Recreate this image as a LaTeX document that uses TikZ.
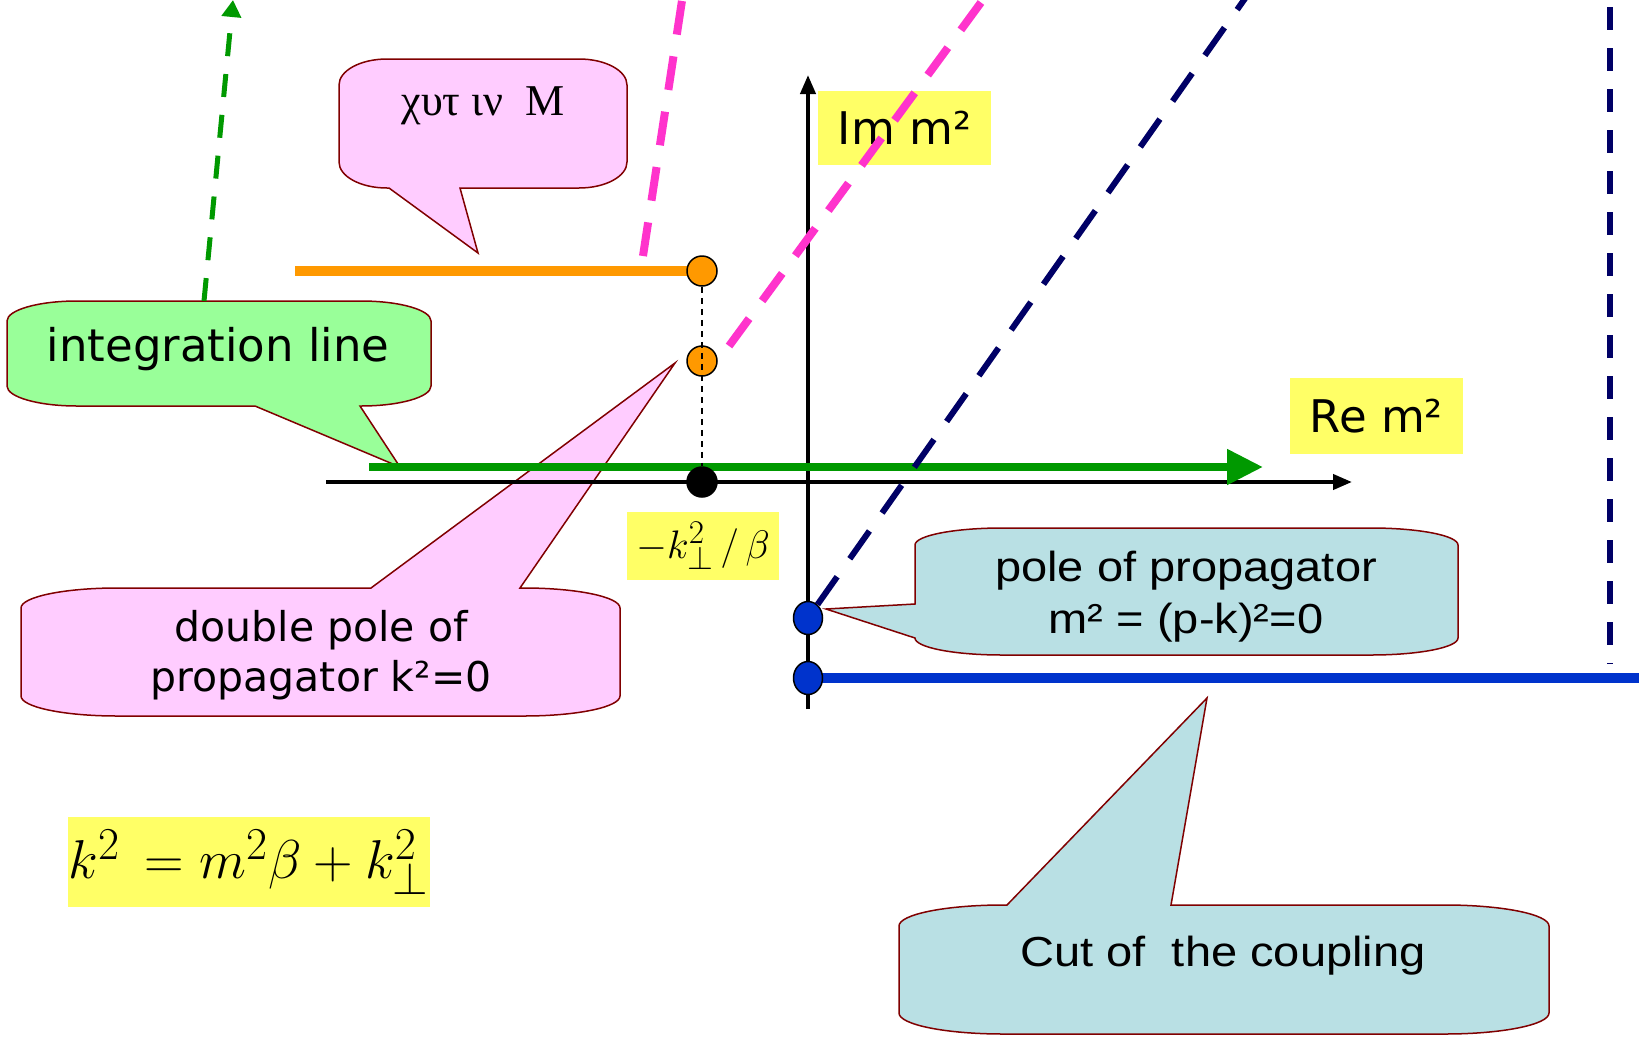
\documentclass[tikz,border=0pt]{standalone}
\usepackage{fontspec}
\usetikzlibrary{arrows.meta,shapes.geometric}
\newfontfamily\dvs{DejaVu Sans}
\newfontfamily\lsans[FakeStretch=1.12]{Liberation Sans}
\newfontfamily\lserif{Liberation Serif}
\definecolor{pinkc}{HTML}{FFCCFF}
\definecolor{greenc}{HTML}{99FF99}
\definecolor{cyanc}{HTML}{B9E0E4}
\definecolor{yellowc}{HTML}{FFFF66}
\definecolor{maroonc}{HTML}{800000}
\definecolor{orangec}{HTML}{FF9900}
\definecolor{magc}{HTML}{FF33CC}
\definecolor{navyc}{HTML}{000066}
\definecolor{bluec}{HTML}{0033CC}
\definecolor{greenl}{HTML}{009900}
\def\cbcol{pinkc}
% #1 x1, #2 y1, #3 x2, #4 y2, #5 rx, #6 ry, #7 top tail, #8 bottom tail, #9 left tail
\newcommand\callout[9]{%
\draw[cbox] ({#1+#5},#2) #7 -- ({#3-#5},#2)
 .. controls ({#3-0.4477*#5},#2) and (#3,{#2+0.4477*#6}) .. (#3,{#2+#6})
 -- (#3,{#4-#6})
 .. controls (#3,{#4-0.4477*#6}) and ({#3-0.4477*#5},#4) .. ({#3-#5},#4)
 #8 -- ({#1+#5},#4)
 .. controls ({#1+0.4477*#5},#4) and (#1,{#4-0.4477*#6}) .. (#1,{#4-#6})
 #9 -- (#1,{#2+#6})
 .. controls (#1,{#2+0.4477*#6}) and ({#1+0.4477*#5},#2) .. cycle;}
\begin{document}
\begin{tikzpicture}[x=1pt,y=-1pt,
  cbox/.style={draw=maroonc, line width=1.5pt, fill=\cbcol, line join=miter},
  ybox/.style={fill=yellowc, inner sep=0pt},
  axisline/.style={line width=4pt, -{Triangle[length=19pt,width=15pt]}},
  intl/.style={draw=greenl, line width=8pt, -{Triangle[length=36pt,width=34pt]}},
  magline/.style={draw=magc, line width=8pt, dash pattern=on 34pt off 22pt},
  navyline/.style={draw=navyc, line width=6pt, dash pattern=on 34pt off 22pt},
  navyvert/.style={draw=navyc, line width=6pt, dash pattern=on 23pt off 18pt},
  dotnode/.style={circle, draw=black, line width=1.5pt, minimum size=30pt, inner sep=0pt},
  bdotnode/.style={ellipse, draw=black, line width=1.5pt, fill=bluec, minimum width=29pt, minimum height=33pt, inner sep=0pt},
  vdash/.style={draw=black, line width=1.8pt, dash pattern=on 6pt off 5pt},
  gdash/.style={draw=greenl, line width=5pt, dash pattern=on 23pt off 18pt, -{Triangle[length=17pt,width=19pt]}},
  mathbox/.style={fill=yellowc, transform shape, inner sep=0pt, font=\Huge}
]
\clip (0,0) rectangle (1639,1037);
\fill[white] (0,0) rectangle (1639,1037);

% callouts
\def\cbcol{pinkc}
\callout{339}{59}{627}{188}{48}{26}{}{-- (460,188) -- (478,253) -- (389,188)}{}
\def\cbcol{greenc}
\callout{7}{301}{431}{406}{70}{20}{}{-- (360,406) -- (400,467) -- (255,406)}{}
\def\cbcol{pinkc}
\callout{21}{588}{620}{716}{96}{20}{-- (371,588) -- (675,363) -- (520,588)}{}{}
\def\cbcol{cyanc}
\callout{915}{528}{1458}{655}{87}{17}{}{}{-- (915,638) -- (826,609) -- (915,604)}
\def\cbcol{cyanc}
\callout{899}{905}{1549}{1034}{104}{21}{-- (1007,905) -- (1207,698) -- (1171,905)}{}{}

% yellow labels
\node[ybox, minimum width=173pt, minimum height=74pt, font=\dvs\fontsize{45}{54}\selectfont] (im) at (904.5,128) {Im m²};
\node[ybox, minimum width=173pt, minimum height=76pt, font=\dvs\fontsize{45}{54}\selectfont] (re) at (1376.5,416) {Re m²};
\node[mathbox, scale=1.6, minimum width=95pt, minimum height=42.5pt] (kb) at (703,546) {$-k_\perp^{2}\,/\,\beta$};
\node[mathbox, scale=2.2, minimum width=164.5pt, minimum height=41pt] (kf) at (249,862) {$k^{2}\,=m^{2}\beta+k_\perp^{2}$};

% navy vertical dashed
\coordinate (nv0) at (1610,7);
\coordinate (nv1) at (1610,664);
\draw[navyvert] (nv0) -- (nv1);

% blue cut line
\coordinate (b2c) at (808,678);
\coordinate (bend) at (1645,678);
\draw[bluec, line width=10pt] (b2c) -- (bend);

% axes
\coordinate (hx0) at (326,482);
\coordinate (hx1) at (1352,482);
\coordinate (vy0) at (808,709);
\coordinate (vy1) at (808,75);
\draw[axisline] (hx0) -- (hx1);
\draw[axisline] (vy0) -- (vy1);

% integration line
\coordinate (g0) at (369,467);
\coordinate (g1) at (1263,467);
\draw[intl] (g0) -- (g1);

% orange line
\coordinate (ol) at (295,271);
\coordinate (o1c) at (702,271);
\draw[orangec, line width=10pt] (ol) -- (o1c);

% magenta dashed lines
\coordinate (ms) at (729,346);
\coordinate (me) at (985,-3);
\draw[magline] (ms) -- (me);
\coordinate (m2s) at (643,256);
\coordinate (m2e) at (683,-6);
\draw[magline] (m2s) -- (m2e);

% dots
\node[dotnode, fill=orangec] (o1) at (o1c) {};
\node[dotnode, fill=orangec] (o2) at (702,361) {};
\node[dotnode, fill=black] (bd) at (702,482) {};
\draw[vdash] (o1) -- (bd);
\node[bdotnode] (b1) at (808,618) {};
\node[bdotnode] (b2) at (b2c) {};

% navy diagonal dashed
\coordinate (ntop) at (1251,-10);
\draw[navyline] (b1) -- (ntop);

% green dashed arrow
\coordinate (gd0) at (204,301);
\coordinate (gd1) at (233,0);
\draw[gdash] (gd0) -- (gd1);

% callout texts
\node[font=\lserif\fontsize{44}{52}\selectfont] (tM) at (483,106) {χυτ ιν\ \ M};
\node[font=\dvs\fontsize{45}{54}\selectfont] (tI) at (218,349) {integration line};
\node[font=\dvs\fontsize{41}{50}\selectfont, align=center] (tD) at (321,655) {double pole of\\propagator k²=0};
\node[font=\lsans\fontsize{42}{52}\selectfont, align=center] (tP) at (1186,597) {pole of propagator\\m² = (p-k)²=0};
\node[font=\lsans\fontsize{42}{50}\selectfont] (tC) at (1223,956) {Cut of\ \ the coupling};
\end{tikzpicture}
\end{document}
